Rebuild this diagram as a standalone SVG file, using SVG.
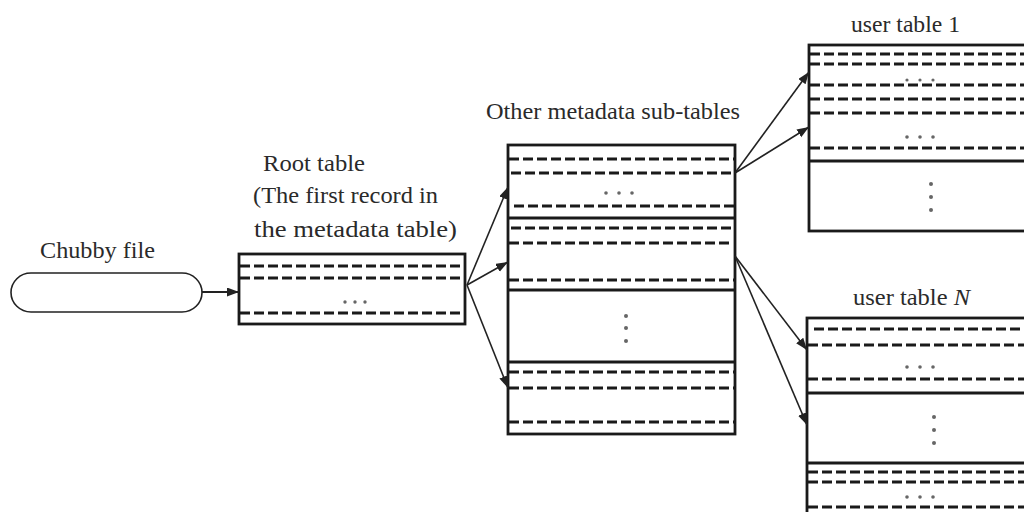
<svg xmlns="http://www.w3.org/2000/svg" width="1024" height="512" viewBox="0 0 1024 512">
<defs>
<marker id="ah" markerUnits="userSpaceOnUse" markerWidth="13" markerHeight="10" refX="12" refY="4.5" orient="auto">
<path d="M0,0 L12,4.5 L0,9 Z" fill="#222"/>
</marker>
<style>
.box{fill:#fff;stroke:#1a1a1a;stroke-width:2.8}
.sep{stroke:#1a1a1a;stroke-width:2.8}
.dash{stroke:#1a1a1a;stroke-width:3;stroke-dasharray:10 4}
.dot{fill:#666}
.lbl{font-family:"Liberation Serif","Times New Roman",serif;font-size:23px;fill:#2a2a2a}
.conn{stroke:#222;stroke-width:1.6;fill:none;marker-end:url(#ah)}
</style>
</defs>
<rect width="1024" height="512" fill="#fff"/>

<g id="chubby">
<rect x="11" y="273" width="191" height="39" rx="20" ry="19.5" fill="#fff" stroke="#222" stroke-width="1.6"/>
<text class="lbl" x="40" y="258" textLength="115" lengthAdjust="spacingAndGlyphs">Chubby file</text>
</g>

<g id="root">
<text class="lbl" x="263" y="171" textLength="102" lengthAdjust="spacingAndGlyphs">Root table</text>
<text class="lbl" x="253" y="203" textLength="185" lengthAdjust="spacingAndGlyphs">(The first record in</text>
<text class="lbl" x="254" y="237" textLength="203" lengthAdjust="spacingAndGlyphs">the metadata table)</text>
<rect class="box" x="239" y="254" width="226" height="70"/>
<line class="dash" x1="240" y1="266" x2="464" y2="266"/>
<line class="dash" x1="240" y1="278" x2="464" y2="278"/>
<line class="dash" x1="240" y1="313" x2="464" y2="313"/>
<circle class="dot" cx="345" cy="302" r="1.7"/><circle class="dot" cx="355" cy="302" r="1.7"/><circle class="dot" cx="365" cy="302" r="1.7"/>
</g>

<g id="metadata">
<text class="lbl" x="486" y="119" textLength="254" lengthAdjust="spacingAndGlyphs">Other metadata sub-tables</text>
<rect class="box" x="508" y="145" width="227" height="289"/>
<line class="sep" x1="508" y1="218" x2="735" y2="218"/>
<line class="sep" x1="508" y1="290" x2="735" y2="290"/>
<line class="sep" x1="508" y1="362" x2="735" y2="362"/>
<line class="dash" x1="509" y1="159" x2="734" y2="159"/>
<line class="dash" x1="511" y1="173" x2="734" y2="173"/>
<line class="dash" x1="514" y1="206" x2="734" y2="206"/>
<line class="dash" x1="511" y1="228" x2="734" y2="228"/>
<line class="dash" x1="509" y1="243" x2="730" y2="243"/>
<line class="dash" x1="509" y1="280" x2="734" y2="280"/>
<line class="dash" x1="509" y1="372" x2="734" y2="372"/>
<line class="dash" x1="509" y1="388" x2="734" y2="388"/>
<line class="dash" x1="509" y1="422" x2="734" y2="422"/>
<circle class="dot" cx="606" cy="193" r="1.8"/><circle class="dot" cx="619" cy="193" r="1.8"/><circle class="dot" cx="632" cy="193" r="1.8"/>
<circle class="dot" cx="626" cy="316" r="2"/><circle class="dot" cx="626" cy="328" r="2"/><circle class="dot" cx="626" cy="341" r="2"/>
</g>

<g id="usertable1">
<text class="lbl" x="851" y="32" textLength="109" lengthAdjust="spacingAndGlyphs">user table 1</text>
<rect class="box" x="809" y="45" width="240" height="186"/>
<line class="sep" x1="809" y1="161" x2="1030" y2="161"/>
<line class="dash" x1="810" y1="54" x2="1024" y2="54"/>
<line class="dash" x1="810" y1="64" x2="1024" y2="64"/>
<line class="dash" x1="810" y1="85" x2="1024" y2="85"/>
<line class="dash" x1="810" y1="99" x2="1024" y2="99"/>
<line class="dash" x1="810" y1="113" x2="1024" y2="113"/>
<line class="dash" x1="810" y1="148" x2="1024" y2="148"/>
<circle class="dot" cx="907" cy="80" r="1.6"/><circle class="dot" cx="920" cy="80" r="1.6"/><circle class="dot" cx="933" cy="80" r="1.6"/>
<circle class="dot" cx="907" cy="137" r="1.8"/><circle class="dot" cx="920" cy="137" r="1.8"/><circle class="dot" cx="933" cy="137" r="1.8"/>
<circle class="dot" cx="931" cy="184" r="2"/><circle class="dot" cx="931" cy="197" r="2"/><circle class="dot" cx="931" cy="210" r="2"/>
</g>

<g id="usertableN">
<text class="lbl" x="853" y="305" textLength="117" lengthAdjust="spacingAndGlyphs">user table <tspan font-style="italic">N</tspan></text>
<rect class="box" x="807" y="318" width="240" height="220"/>
<line class="sep" x1="807" y1="393" x2="1030" y2="393"/>
<line class="sep" x1="807" y1="463" x2="1030" y2="463"/>
<line class="dash" x1="814" y1="329" x2="1024" y2="329"/>
<line class="dash" x1="808" y1="345" x2="1024" y2="345"/>
<line class="dash" x1="808" y1="379" x2="1024" y2="379"/>
<line class="dash" x1="808" y1="472" x2="1024" y2="472"/>
<line class="dash" x1="808" y1="482" x2="1024" y2="482"/>
<line class="dash" x1="808" y1="507" x2="1024" y2="507"/>
<circle class="dot" cx="907" cy="367" r="1.8"/><circle class="dot" cx="920" cy="367" r="1.8"/><circle class="dot" cx="933" cy="367" r="1.8"/>
<circle class="dot" cx="934" cy="417" r="2"/><circle class="dot" cx="934" cy="430" r="2"/><circle class="dot" cx="934" cy="443" r="2"/>
<circle class="dot" cx="907" cy="497" r="1.8"/><circle class="dot" cx="920" cy="497" r="1.8"/><circle class="dot" cx="933" cy="497" r="1.8"/>
</g>

<g id="connectors">
<line class="conn" x1="202" y1="292" x2="239" y2="292" style="stroke-width:2.2"/>
<line class="conn" x1="467" y1="285" x2="508" y2="187"/>
<line class="conn" x1="467" y1="285" x2="508" y2="262"/>
<line class="conn" x1="467" y1="285" x2="508" y2="388"/>
<line class="conn" x1="735" y1="173" x2="809" y2="72"/>
<line class="conn" x1="735" y1="173" x2="809" y2="127"/>
<line class="conn" x1="735" y1="256" x2="807" y2="350"/>
<line class="conn" x1="735" y1="256" x2="807" y2="425"/>
</g>
</svg>
